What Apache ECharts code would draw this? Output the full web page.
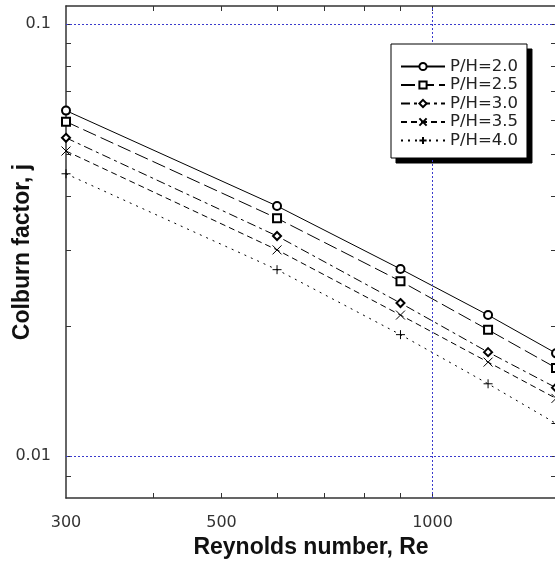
<!DOCTYPE html>
<html style="height: 100%">

<head>
    <meta charset="utf-8">
</head>

<body style="height: 100%; margin: 0; background: #fff">
    <div id="container" style="width: 555px; height: 563px"></div>
    <script src="https://cdn.jsdelivr.net/npm/echarts@6/dist/echarts.min.js"></script>
    <script type="text/javascript">
        // Reynolds number (x) and Colburn factor j per pitch ratio
        var reynolds = [300, 600, 900, 1200, 1500];
        var ph20 = [0.0630, 0.0379, 0.0271, 0.0212, 0.0173];
        var ph25 = [0.0594, 0.0355, 0.0254, 0.0196, 0.0160];
        var ph30 = [0.0545, 0.0323, 0.0226, 0.0174, 0.0144];
        var ph35 = [0.0508, 0.0300, 0.0212, 0.0165, 0.0136];
        var ph40 = [0.0450, 0.0270, 0.0191, 0.0147, 0.0119];
        var names = ['P/H=2.0', 'P/H=2.5', 'P/H=3.0', 'P/H=3.5', 'P/H=4.0'];

        var xTicks = [400, 500, 600, 700, 800, 900, 1000];
        var xLabels = [300, 500, 1000];
        var yTicks = [0.009, 0.01, 0.02, 0.03, 0.04, 0.05, 0.06, 0.07, 0.08, 0.09, 0.1];
        var yLabels = [0.01, 0.1];

        var dom = document.getElementById("container");
        var myChart = echarts.init(dom);

        var symbols = ['emptyCircle', 'emptyRect', 'emptyDiamond',
            'path://M0,0L10,10M10,0L0,10', 'path://M5,0L5,10M0,5L10,5'];
        var dashes = ['solid', [14, 5], [9, 4, 3, 4], [6, 4], [2, 5]];
        var values = [ph20, ph25, ph30, ph35, ph40];

        var axisLine = { show: true, onZero: false, lineStyle: { color: '#333', width: 1.5 } };
        var font = 'DejaVu Sans';

        var series = values.map(function(v, i) {
            var s = {
                name: names[i],
                type: 'line',
                data: v.map(function(y, k) { return [reynolds[k], y] }),
                symbol: symbols[i],
                symbolSize: i >= 3 ? 9 : 8,
                showAllSymbol: true,
                lineStyle: { color: '#000', width: 1, type: dashes[i] },
                itemStyle: { color: '#000', borderColor: '#000', borderWidth: 1 },
                emphasis: { disabled: true }
            };
            if (i >= 3) s.itemStyle.color = 'transparent';
            return s;
        });

        // dotted blue grid lines at the decades and at Re = 1000
        series[0].markLine = {
            silent: true,
            symbol: ['none', 'none'],
            label: { show: false },
            lineStyle: { color: '#3a3acc', width: 1, type: [2, 2] },
            data: [{ xAxis: 1000 }, { yAxis: 0.01 }, { yAxis: 0.1 }]
        };

        // same layout for the legend and its drop shadow copy
        var legendBase = {
            orient: 'vertical',
            align: 'left',
            selectedMode: false,
            borderRadius: 0,
            padding: [14, 9, 9, 9],
            itemWidth: 44,
            itemHeight: 9,
            itemGap: 1.5,
            data: names
        };
        var legendMain = Object.assign({}, legendBase, {
            left: 391,
            top: 44,
            z: 6,
            backgroundColor: '#fff',
            borderColor: '#000',
            borderWidth: 1,
            textStyle: { fontFamily: font, fontSize: 16.5, color: '#222', lineHeight: 15 }
        });
        var legendShadow = Object.assign({}, legendBase, {
            left: 396,
            top: 49,
            z: 5,
            backgroundColor: '#000',
            borderColor: '#000',
            borderWidth: 1,
            textStyle: { fontFamily: font, fontSize: 16.5, color: '#000', lineHeight: 15 }
        });

        var option = {
            animation: false,
            backgroundColor: '#fff',
            grid: { left: 66, top: 6, width: 490, height: 492, containLabel: false, outerBoundsMode: 'none' },
            legend: [legendMain, legendShadow],
            xAxis: [{
                type: 'log',
                logBase: 10,
                min: 300,
                max: 1500,
                name: 'Reynolds number, Re',
                nameLocation: 'middle',
                nameGap: 38,
                nameMoveOverlap: false,
                nameTextStyle: { fontFamily: 'Liberation Sans', fontWeight: 'bold', fontSize: 23, color: '#111' },
                axisLine: axisLine,
                axisTick: { show: true, inside: true, length: 5, customValues: xTicks, lineStyle: { color: '#333' } },
                axisLabel: {
                    show: true, customValues: xLabels, margin: 17,
                    fontFamily: font, fontSize: 16, color: '#333',
                    formatter: function(v) { return String(Math.round(v)) }
                },
                splitLine: { show: false }
            }, {
                type: 'log',
                logBase: 10,
                min: 300,
                max: 1500,
                position: 'top',
                axisLine: axisLine,
                axisTick: { show: true, inside: true, length: 5, customValues: xTicks, lineStyle: { color: '#333' } },
                axisLabel: { show: false },
                splitLine: { show: false }
            }],
            yAxis: [{
                type: 'log',
                logBase: 10,
                min: 0.008,
                max: 0.11,
                name: 'Colburn factor, j',
                nameLocation: 'middle',
                nameGap: 32,
                nameMoveOverlap: false,
                nameTextStyle: { fontFamily: 'Liberation Sans', fontWeight: 'bold', fontSize: 23, color: '#111' },
                axisLine: axisLine,
                axisTick: { show: true, inside: true, length: 5, customValues: yTicks, lineStyle: { color: '#333' } },
                axisLabel: {
                    show: true, customValues: yLabels, margin: 15,
                    fontFamily: font, fontSize: 16, color: '#333',
                    formatter: function(v) { return String(+v.toPrecision(3)) }
                },
                splitLine: { show: false }
            }, {
                type: 'log',
                logBase: 10,
                min: 0.008,
                max: 0.11,
                position: 'right',
                axisLine: axisLine,
                axisTick: { show: true, inside: true, length: 5, customValues: yTicks, lineStyle: { color: '#333' } },
                axisLabel: { show: false },
                splitLine: { show: false }
            }],
            series: series
        };

        myChart.setOption(option);
    </script>
</body>

</html>
